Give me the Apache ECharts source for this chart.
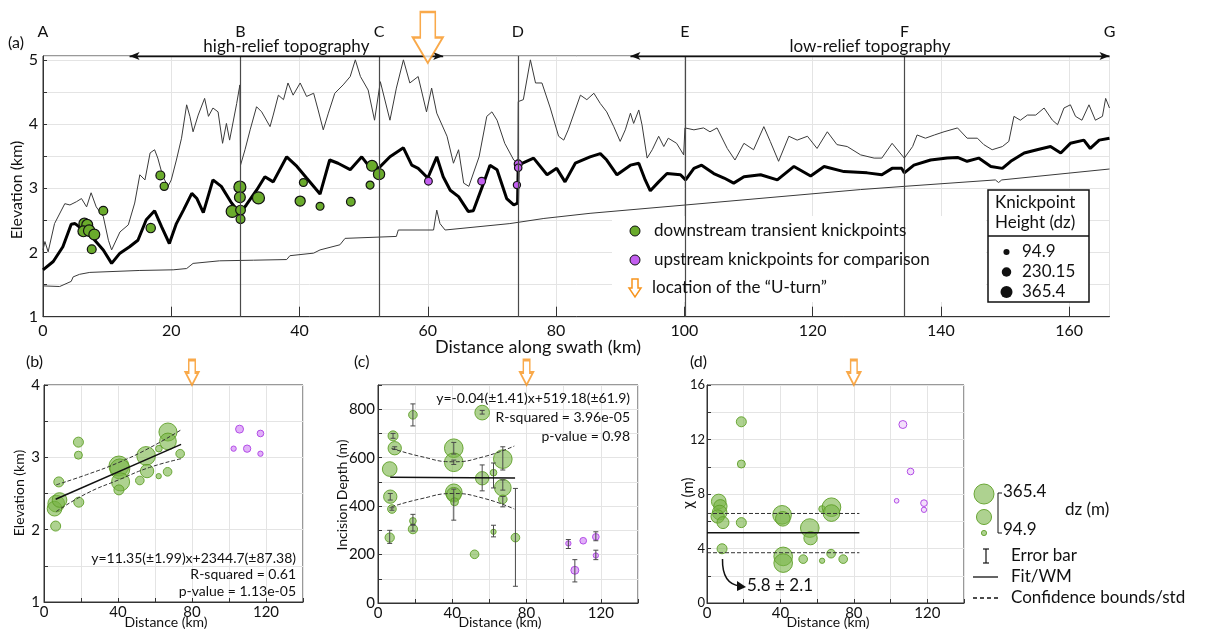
<!DOCTYPE html>
<html>
<head>
<meta charset="utf-8">
<script src="https://cdn.jsdelivr.net/npm/echarts@6/dist/echarts.min.js"></script>
<style>
  html, body { margin: 0; padding: 0; background: #fff; }
  #main { width: 1209px; height: 630px; }
</style>
</head>
<body>
<div id="main"></div>
<script>
// ---- panel (a): swath profile ----
const maxProfile = [[0,2.04],[0.3,2.17],[0.8,2.01],[1.8,2.45],[3.4,2.76],[4.2,2.74],[5.2,2.79],[6,2.84],[6.8,2.71],[7.5,2.93],[8.3,2.71],[9.4,2.56],[10.2,2.19],[10.7,2.04],[12,2.32],[13.3,2.43],[14.3,2.77],[15.1,3.21],[15.9,3.13],[16.7,3.55],[17.4,3.6],[17.9,3.47],[18.7,3.18],[19.5,3.03],[20,3.13],[20.8,3.44],[21.6,3.78],[22.4,4.3],[22.9,4.12],[23.4,3.88],[24.2,4.14],[25.2,4.4],[25.8,4.12],[26.5,4.25],[27.3,4.19],[28,3.7],[28.6,4.01],[29.1,3.75],[30.2,4.32],[30.7,4.61],[30.8,3.36],[31.5,3.6],[32.3,3.91],[33.3,4.27],[34.1,4.19],[35.4,3.96],[35.9,4.14],[36.7,4.45],[37.5,4.38],[38.2,4.64],[39,4.45],[40.1,4.64],[41.1,4.43],[42.2,4.48],[42.9,4.22],[43.7,3.91],[44.5,4.17],[45.5,4.48],[46.8,4.61],[47.9,4.74],[48.7,5.0],[49.5,4.74],[50.7,4.53],[51.7,4.06],[52.6,4.66],[54.1,4.06],[55.1,4.56],[56.2,5.0],[57.2,4.64],[58.5,4.74],[59.8,4.19],[60.6,4.56],[61.4,4.17],[63,3.81],[64,3.39],[64.8,3.6],[65.6,3.08],[66.4,3.03],[68,3.49],[69.2,4.12],[70,4.19],[70.8,4.06],[72,3.7],[73.4,3.44],[74.05,3.39],[74.1,4.35],[74.9,4.38],[76,5.0],[76.8,4.64],[77.8,4.64],[79.1,4.25],[80.4,3.81],[81.2,3.75],[81.9,3.91],[83.8,4.45],[84.8,4.38],[85.9,4.48],[86.9,4.32],[87.9,4.19],[89,3.96],[90,3.73],[90.8,3.91],[91.6,4.17],[92.1,4.01],[92.9,4.22],[93.4,3.99],[94.2,3.47],[95,3.6],[96,3.81],[96.8,3.65],[97.5,3.78],[98.8,3.7],[99.9,3.52],[100.1,3.94],[101.5,3.91],[103,3.94],[104,3.88],[105.1,3.94],[106.7,3.62],[107.9,3.44],[109.3,3.7],[110.8,3.6],[112.4,3.96],[113.4,3.73],[114.7,3.42],[116.3,3.81],[117.6,3.75],[119.2,3.81],[120.7,3.62],[122.3,3.88],[123.8,3.68],[125.4,3.65],[127.5,3.52],[129.6,3.47],[130.8,3.47],[132.4,3.7],[134.3,3.47],[135.6,3.65],[136.3,3.83],[137.6,3.78],[139,3.83],[140.5,3.88],[142.6,3.94],[144.1,3.78],[145.7,3.78],[146.7,3.68],[148,3.6],[149.6,3.65],[150.6,3.73],[151.4,4.12],[152.4,4.06],[153.5,4.14],[154.8,4.14],[156.1,4.25],[157.4,4.06],[158.2,3.99],[159.2,4.25],[160.2,4.3],[161,4.12],[162,4.06],[163.1,4.3],[164.1,4.06],[165.2,4.12],[165.7,4.4],[166.3,4.25]];
const meanProfile = [[0,1.73],[1.6,1.86],[3.1,2.09],[4.4,2.44],[5,2.45],[6.3,2.35],[7.8,2.22],[9.4,2.04],[10.7,1.83],[12,1.99],[13.5,2.09],[14.8,2.19],[16.1,2.51],[17.4,2.65],[18.5,2.4],[19.7,2.14],[20.8,2.45],[21.9,2.66],[23.2,2.92],[24,2.84],[25,2.62],[26.5,3.13],[27.8,3.03],[29.4,2.77],[30.7,2.61],[31.7,2.74],[33.3,2.97],[34.6,3.18],[35.9,3.1],[38,3.49],[39.6,3.34],[41.1,3.16],[43.2,2.91],[44.7,3.44],[46,3.39],[47.9,3.29],[49.7,3.49],[50.7,3.36],[52.3,3.31],[54.1,3.49],[56.2,3.63],[57.5,3.36],[58.5,3.31],[60,3.16],[61.4,3.49],[62.4,3.18],[63.5,2.97],[64.8,2.87],[66.3,2.64],[67.1,2.65],[68.7,3.08],[69.7,3.36],[70.8,3.29],[72.3,2.84],[73.4,2.74],[74,2.77],[74.1,3.36],[76.5,3.47],[78.6,3.21],[80.1,3.31],[81.4,3.1],[83,3.39],[85.3,3.49],[86.9,3.54],[87.9,3.44],[89.5,3.21],[91.6,3.36],[92.9,3.39],[93.9,3.13],[94.7,2.96],[96,3.1],[97.3,3.23],[99.4,3.21],[100.2,3.13],[101.5,3.31],[102.7,3.36],[104.6,3.23],[106.2,3.16],[107.7,3.08],[109.3,3.18],[111.9,3.21],[114.5,3.13],[117.1,3.34],[119.7,3.19],[121.8,3.34],[124.9,3.26],[128.5,3.24],[130.8,3.21],[132.4,3.31],[133.9,3.31],[134.3,3.24],[135.8,3.36],[138.4,3.44],[141,3.47],[142.6,3.48],[144.1,3.42],[145.9,3.47],[147.8,3.34],[149.6,3.31],[150.9,3.42],[153,3.55],[155,3.6],[157.1,3.65],[158.7,3.55],[160.2,3.7],[162.3,3.75],[163.3,3.62],[164.7,3.75],[166.3,3.78]];
const minProfile = [[0,1.48],[2.6,1.47],[4.4,1.55],[4.7,1.62],[5.7,1.66],[7.3,1.69],[15.1,1.72],[20.3,1.73],[22.4,1.75],[23.4,1.83],[27.5,1.87],[32.8,1.88],[38,1.89],[38.5,1.95],[42.2,1.99],[43.2,2.04],[46.3,2.12],[47.1,2.22],[55.1,2.25],[55.4,2.35],[60.9,2.35],[61.4,2.66],[61.9,2.45],[62.7,2.35],[72.8,2.45],[78.1,2.53],[85.3,2.61],[100.2,2.74],[127.5,2.98],[134.3,3.03],[148.5,3.13],[149,3.09],[149.5,3.13],[166.3,3.3]];
// [km, elevation km, dz m]
const knickDownA = [[6.45,2.45,300],[6.9,2.43,300],[6.3,2.33,300],[7.2,2.34,330],[8.0,2.28,300],[7.6,2.05,200],[9.4,2.65,200],[16.8,2.38,220],[18.3,3.2,200],[18.9,3.03,170],[29.5,2.64,365],[30.7,3.02,365],[30.7,2.86,300],[30.8,2.66,240],[30.8,2.52,200],[33.6,2.85,365],[40.1,2.8,260],[40.6,3.09,160],[43.2,2.72,160],[48,2.79,190],[51,3.05,160],[51.3,3.35,300],[52.4,3.22,320]];
const knickUpA = [[60.1,3.11,150],[68.4,3.11,150],[74.1,3.38,160],[74.1,3.32,140],[73.9,3.05,130]];
const sectionKm = [0, 30.8, 52.4, 74.05, 100.1, 134.35, 166.3];
const sectionNames = ['A', 'B', 'C', 'D', 'E', 'F', 'G'];
const reliefZones = [
  { name: 'high-relief topography', from: 13.5, to: 62.4 },
  { name: 'low-relief topography', from: 91.6, to: 166.3 }
];
const uTurnKmA = 60;
const dzLegend = [94.9, 230.15, 365.4];

// ---- panel (b): elevation vs distance ----
const knickDownB = [[6.6,2.36,305],[5.7,2.29,268],[8.4,2.41,268],[8.0,2.66,183],[6.3,2.05,183],[18.6,3.21,183],[18.6,3.03,146],[18.8,2.38,183],[40.5,2.88,365],[41,2.84,365],[41.4,2.66,330],[40.5,2.55,183],[51.8,2.68,158],[55.2,3.02,341],[55.7,2.81,244],[62,2.74,97],[62.1,3.12,122],[67,3.35,330],[67,3.22,305],[66.8,2.8,158],[73.6,3.05,158]];
const knickUpB = [[105.7,3.39,146],[102.5,3.12,97],[109.8,3.12,134],[117,3.33,122],[117,3.05,97]];
const fitB = [[6.3,2.42],[74.1,3.18]];
const fitBUpper = [[6.6,2.62],[23,2.76],[40.5,2.93],[57,3.13],[74.1,3.38]];
const fitBLower = [[6.6,2.25],[23,2.5],[40.5,2.69],[57,2.86],[74.1,2.98]];
const statsB = ['y=11.35(\u00b11.99)x+2344.7(\u00b187.38)', 'R-squared = 0.61', 'p-value = 1.13e-05'];

// ---- panel (c): incision depth vs distance ----
const knickDownC = [[18.8,777,158],[8.1,690,183],[9.0,639,244],[6.3,553,268],[6.6,439,244],[7.5,388,158],[6.3,270,170],[18.8,339,122],[18.8,305,170],[40.8,639,341],[40.8,581,341],[40.8,457,305],[40.8,447,268],[41.2,418,146],[56.1,786,268],[56.1,515,244],[52,201,158],[62.2,538,122],[62.2,294,97],[67.2,594,341],[67.2,476,305],[67.2,428,158],[74,270,158]];
const knickUpC = [[102.5,246,97],[106,135,146],[110.5,257,122],[117.3,273,122],[117.3,196,97]];
// [km, low, high]
const errBarsC = [[18.8,731,822],[8.1,680,700],[9.0,634,645],[6.6,425,452],[7.5,383,393],[6.3,246,300],[18.8,324,366],[18.8,297,321],[40.8,615,663],[40.8,572,590],[40.8,342,470],[56.1,780,795],[56.1,463,570],[62.2,475,578],[62.2,273,321],[67.2,549,645],[67.2,466,508],[67.2,397,440],[74,69,473],[102.5,225,262],[106,87,179],[117.3,257,294],[117.3,179,218]];
const fitC = [[6.6,519],[73.8,516]];
const fitCUpper = [[7.2,639],[23,605],[40.3,583],[57,604],[73.4,648]];
const fitCLower = [[7.2,397],[23,430],[40.3,452],[57,432],[73.4,388]];
const statsC = ['y=-0.04(\u00b11.41)x+519.18(\u00b161.9)', 'R-squared = 3.96e-05', 'p-value = 0.98'];

// ---- panel (d): chi vs distance ----
const knickDownD = [[18.7,13.3,183],[18.7,10.2,146],[6.4,7.45,268],[7.3,7.1,244],[6.9,6.64,268],[5.8,6.35,244],[8.7,5.9,219],[8.2,3.98,183],[18.7,5.9,183],[40.9,6.47,341],[41.3,6.18,268],[41.5,3.42,341],[41.5,2.93,341],[52.4,3.22,158],[56,5.5,341],[56.4,4.76,244],[62.7,3.1,97],[62.7,6.9,122],[67.8,7.03,341],[67.8,6.6,305],[67.6,3.62,158],[74.2,3.22,158]];
const knickUpD = [[106.7,13.1,146],[110.9,9.65,122],[103.3,7.5,85],[118.2,7.33,122],[118.2,6.84,97]];
const wmD = [[0,5.15],[83,5.15]];
const wmDUpper = [[0,6.57],[83,6.57]];
const wmDLower = [[0,3.69],[83,3.69]];
const uTurnKmBCD = 80;

const FONT = 'Lato';
const GREEN = '#6aab2c';
const PURPLE = '#c35ff0';
const ORANGE = '#f7941d';
const arrowPath = 'path://M2.5,0L7.5,0L7.5,8.5L10,8.5L5,17L0,8.5L2.5,8.5Z';

const sizeA = dz => 12 * Math.sqrt(dz / 365.4);
const sizeB = dz => 20 * dz / 365.4;

const chart = echarts.init(document.getElementById('main'));

function valueAxis(grid, min, max, interval, labelEvery, fontSize, extra) {
  return Object.assign({
    type: 'value', gridIndex: grid, min: min, max: max, interval: interval,
    axisLine: { show: true, lineStyle: { color: '#333' } },
    axisTick: { show: true, inside: true, length: 4, lineStyle: { color: '#333' } },
    splitLine: { show: true, lineStyle: { color: '#e4e4e4' } },
    axisLabel: {
      color: '#111', fontFamily: FONT, fontSize: fontSize, margin: 5,
      showMaxLabel: false,
      formatter: v => (Math.abs(v / labelEvery - Math.round(v / labelEvery)) < 1e-6 ? String(Math.round(v * 100) / 100) : '')
    }
  }, extra || {});
}

function bubbles(grid, data, sizeFn, fill, border, bw, z) {
  return {
    type: 'scatter', xAxisIndex: grid, yAxisIndex: grid, data: data,
    symbolSize: d => sizeFn(d[2]), z: z || 3,
    itemStyle: { color: fill, borderColor: border, borderWidth: bw, opacity: 1 }
  };
}

function plainLine(grid, data, color, width, type, smooth) {
  return {
    type: 'line', xAxisIndex: grid, yAxisIndex: grid, data: data, symbol: 'none',
    smooth: !!smooth, lineStyle: { color: color, width: width, type: type || 'solid' }, z: 2
  };
}

function uTurn(grid, x, y, w, h) {
  return {
    type: 'scatter', xAxisIndex: grid, yAxisIndex: grid, data: [[x, y]], clip: false,
    symbol: arrowPath, symbolSize: [w, h], symbolOffset: [0, -h / 2 + (grid === 0 ? 7 : 0)], z: 6,
    itemStyle: { color: '#fff', borderColor: ORANGE, borderWidth: 2 }
  };
}

const greenSoft = 'rgba(120,180,70,0.6)';
const greenEdge = 'rgba(95,160,40,0.9)';
const purpleSoft = 'rgba(215,150,245,0.75)';
const purpleEdge = '#b24ce6';

const errBars = {
  type: 'custom', xAxisIndex: 2, yAxisIndex: 2, data: errBarsC, z: 5,
  renderItem: (params, api) => {
    const lo = api.coord([api.value(0), api.value(1)]);
    const hi = api.coord([api.value(0), api.value(2)]);
    const c = 2.5, st = { stroke: '#4a4a4a', lineWidth: 1 };
    return { type: 'group', children: [
      { type: 'line', shape: { x1: lo[0], y1: lo[1], x2: hi[0], y2: hi[1] }, style: st },
      { type: 'line', shape: { x1: lo[0] - c, y1: lo[1], x2: lo[0] + c, y2: lo[1] }, style: st },
      { type: 'line', shape: { x1: hi[0] - c, y1: hi[1], x2: hi[0] + c, y2: hi[1] }, style: st }
    ] };
  }
};

const yTopA = 5.06;

// section lines with letters, and relief arrows along the top
const sectionMarks = {
  symbol: ['none', 'none'], silent: true,
  lineStyle: { color: '#4a4a4a', width: 1.2, type: 'solid' },
  label: { show: true, position: 'end', distance: 16, color: '#111', fontFamily: FONT, fontSize: 16 },
  data: sectionKm.map((v, i) => ({
    xAxis: v, label: { formatter: sectionNames[i] },
    lineStyle: (i === 0 || i === sectionKm.length - 1) ? { color: 'rgba(0,0,0,0)' } : {}
  }))
};
const reliefMarks = {
  symbol: ['arrow', 'arrow'], symbolSize: [6, 10], silent: true,
  lineStyle: { color: '#111', width: 1.3, type: 'solid' },
  label: { show: true, position: 'middle', distance: 1, color: '#111', fontFamily: FONT, fontSize: 17 },
  data: reliefZones.map(z => [
    { coord: [z.from, yTopA], label: { formatter: z.name } },
    { coord: [z.to, yTopA] }
  ])
};

function txt(x, y, text, size, align, extra) {
  return Object.assign({
    type: 'text', x: x, y: y, z: 10,
    style: { text: text, fill: '#111', fontFamily: FONT, fontSize: size, align: align || 'left', verticalAlign: 'middle' }
  }, extra || {});
}
function vtxt(x, y, text, size) {
  return { type: 'text', x: x, y: y, rotation: Math.PI / 2, z: 10,
    style: { text: text, fill: '#111', fontFamily: FONT, fontSize: size, align: 'center', verticalAlign: 'middle' } };
}
function dot(x, y, d, fill, stroke, lw) {
  return { type: 'circle', z: 10, shape: { cx: x, cy: y, r: d / 2 }, style: { fill: fill, stroke: stroke || null, lineWidth: lw || 0 } };
}
function seg(x1, y1, x2, y2, dash, w) {
  return { type: 'line', z: 10, shape: { x1: x1, y1: y1, x2: x2, y2: y2 }, style: { stroke: '#111', lineWidth: w || 1.3, lineDash: dash || null } };
}

const graphic = [
  // panel labels and axis titles
  txt(8, 43, '(a)', 16), txt(26, 362, '(b)', 16), txt(354, 362, '(c)', 16), txt(690, 362, '(d)', 16),
  vtxt(17, 190, 'Elevation (km)', 16),
  txt(538, 347, 'Distance along swath (km)', 18, 'center'),
  vtxt(19, 493, 'Elevation (km)', 14), vtxt(342, 495, 'Incision Depth (m)', 14), vtxt(688, 493, '\u03c7 (m)', 15),
  txt(166, 622, 'Distance (km)', 14, 'center'), txt(500, 622, 'Distance (km)', 14, 'center'), txt(828, 622, 'Distance (km)', 14, 'center'),
  // legend of (a)
  { type: 'rect', z: 1, shape: { x: 612, y: 216, width: 374, height: 86 }, style: { fill: '#fff' } },
  dot(635, 231, 10, GREEN, '#111', 1), txt(654, 231, 'downstream transient knickpoints', 17),
  dot(635, 260, 10, PURPLE, '#111', 1), txt(654, 260, 'upstream knickpoints for comparison', 17),
  { type: 'polygon', z: 10, shape: { points: [[632, 279], [638, 279], [638, 288], [641, 288], [635, 297], [629, 288], [632, 288]] },
    style: { fill: '#fff', stroke: ORANGE, lineWidth: 1.5 } },
  txt(652, 288, 'location of the \u201cU-turn\u201d', 17),
  // knickpoint height box
  { type: 'rect', z: 10, shape: { x: 988, y: 190, width: 101, height: 112 }, style: { fill: '#fff', stroke: '#111', lineWidth: 1.5 } },
  seg(988, 236, 1089, 236, null, 1.5),
  txt(995, 203, 'Knickpoint', 17), txt(995, 223, 'Height (dz)', 17)
].concat(dzLegend.map((dz, i) => dot(1006.5, 252 + i * 20, sizeA(dz), '#111')))
 .concat(dzLegend.map((dz, i) => txt(1022, 252 + i * 20, String(dz), 17)))
 .concat([
  // legend of (d)
  dot(984, 494, sizeB(dzLegend[2]), greenSoft, greenEdge, 1),
  dot(984, 517, sizeB(dzLegend[1]) * 1.2, greenSoft, greenEdge, 1),
  dot(984, 533, sizeB(dzLegend[0]), greenSoft, greenEdge, 1),
  seg(998, 493, 998, 533, null, 1), seg(998, 493, 1002, 493, null, 1), seg(998, 533, 1002, 533, null, 1),
  txt(1003, 492, String(dzLegend[2]), 17), txt(1003, 530, String(dzLegend[0]), 17), txt(1065, 510, 'dz (m)', 17),
  seg(986, 549, 986, 563, null, 1.2), seg(983, 549, 989, 549, null, 1.2), seg(983, 563, 989, 563, null, 1.2),
  txt(1011, 556, 'Error bar', 17),
  seg(973, 577, 998, 577, null, 1.3), txt(1011, 577, 'Fit/WM', 17),
  seg(973, 598, 998, 598, [4, 3], 1.3), txt(1011, 598, 'Confidence bounds/std', 17),
  // annotation in (d)
  { type: 'bezierCurve', z: 10, shape: { x1: 722.5, y1: 559, x2: 740, y2: 586, cpx1: 722, cpy1: 584 },
    style: { stroke: '#111', lineWidth: 1.5, fill: null } },
  { type: 'polygon', z: 10, shape: { points: [[746, 587], [737, 581], [737, 591]] }, style: { fill: '#111' } },
  txt(747, 586, '5.8 \u00b1 2.1', 17)
]);

const option = {
  animation: false,
  textStyle: { fontFamily: FONT },
  grid: [
    { left: 43, top: 56, width: 1066.5, height: 260.7, show: true, borderColor: '#333', borderWidth: 1 },
    { left: 44, top: 385, width: 259, height: 217, show: true, borderColor: '#333', borderWidth: 1 },
    { left: 378, top: 385, width: 260, height: 218, show: true, borderColor: '#333', borderWidth: 1 },
    { left: 707, top: 385, width: 257, height: 218, show: true, borderColor: '#333', borderWidth: 1 }
  ],
  xAxis: [
    valueAxis(0, 0, 166.3, 20, 20, 15, { axisTick: { show: true, inside: true, length: 10, lineStyle: { color: '#333' } }, axisLabel: { color: '#111', fontFamily: FONT, fontSize: 16, margin: 6, showMaxLabel: false, formatter: v => (v % 20 === 0 ? String(v) : '') } }),
    valueAxis(1, 0, 140, 20, 40, 14, { axisLabel: { color: '#111', fontFamily: FONT, fontSize: 15, margin: 3, formatter: v => (v % 40 === 0 ? String(v) : '') } }),
    valueAxis(2, 0, 140, 20, 40, 14, { axisLabel: { color: '#111', fontFamily: FONT, fontSize: 15, margin: 3, formatter: v => (v % 40 === 0 ? String(v) : '') } }),
    valueAxis(3, 0, 140, 20, 40, 14, { axisLabel: { color: '#111', fontFamily: FONT, fontSize: 15, margin: 3, formatter: v => (v % 40 === 0 ? String(v) : '') } })
  ],
  yAxis: [
    valueAxis(0, 1, yTopA, 0.5, 1, 16),
    valueAxis(1, 1, 4, 0.5, 1, 15, { axisLabel: { color: '#111', fontFamily: FONT, fontSize: 15, margin: 4, showMaxLabel: true, formatter: v => (v % 1 === 0 ? String(v) : '') } }),
    valueAxis(2, 0, 900, 100, 200, 14, { axisLabel: { color: '#111', fontFamily: FONT, fontSize: 15, margin: 3, formatter: v => (v % 200 === 0 ? String(v) : '') } }),
    valueAxis(3, 0, 16, 2, 4, 12, { axisLabel: { color: '#111', fontFamily: FONT, fontSize: 13, margin: 2, showMaxLabel: true, formatter: v => (v % 4 === 0 ? String(v) : '') } })
  ],
  series: [
    Object.assign(plainLine(0, minProfile, '#3a3a3a', 1), { markLine: sectionMarks }),
    Object.assign(plainLine(0, maxProfile, '#3a3a3a', 1), { markLine: reliefMarks }),
    plainLine(0, meanProfile, '#000', 3),
    bubbles(0, knickDownA, sizeA, GREEN, '#111', 1.2, 4),
    bubbles(0, knickUpA, sizeA, PURPLE, '#111', 1.2, 4),
    uTurn(0, uTurnKmA, yTopA, 30, 51),

    bubbles(1, knickDownB, sizeB, greenSoft, greenEdge, 1),
    bubbles(1, knickUpB, sizeB, purpleSoft, purpleEdge, 1),
    Object.assign(plainLine(1, fitB, '#111', 1.5), { z: 5 }),
    Object.assign(plainLine(1, fitBUpper, '#333', 1, 'dashed', true), { z: 5 }),
    Object.assign(plainLine(1, fitBLower, '#333', 1, 'dashed', true), { z: 5 }),
    uTurn(1, uTurnKmBCD, 4, 13, 25),

    bubbles(2, knickDownC, sizeB, greenSoft, greenEdge, 1),
    bubbles(2, knickUpC, sizeB, purpleSoft, purpleEdge, 1),
    errBars,
    Object.assign(plainLine(2, fitC, '#111', 1.5), { z: 5 }),
    Object.assign(plainLine(2, fitCUpper, '#333', 1, 'dashed', true), { z: 5 }),
    Object.assign(plainLine(2, fitCLower, '#333', 1, 'dashed', true), { z: 5 }),
    uTurn(2, uTurnKmBCD, 900, 13, 25),

    bubbles(3, knickDownD, sizeB, greenSoft, greenEdge, 1),
    bubbles(3, knickUpD, sizeB, 'rgba(240,215,250,0.8)', purpleEdge, 1),
    Object.assign(plainLine(3, wmD, '#111', 1.5), { z: 5 }),
    Object.assign(plainLine(3, wmDUpper, '#333', 1, 'dashed'), { z: 5 }),
    Object.assign(plainLine(3, wmDLower, '#333', 1, 'dashed'), { z: 5 }),
    uTurn(3, uTurnKmBCD, 16, 13, 25)
  ],
  graphic: graphic
    .concat(statsB.map((s, i) => txt(296, 558 + i * 16.5, s, 14, 'right')))
    .concat(statsC.map((s, i) => txt(630, 398 + i * 19, s, 14, 'right')))
};

chart.setOption(option);
</script>
</body>
</html>
